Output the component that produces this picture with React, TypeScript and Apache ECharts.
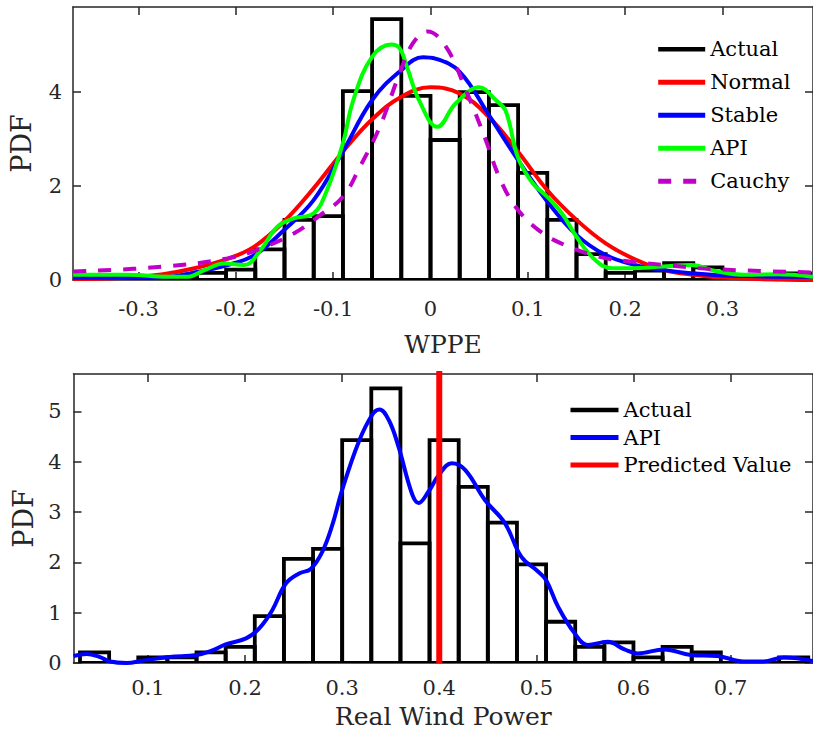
import React, { useEffect, useRef } from 'react';
import * as echarts from 'echarts';

// ---------- Top panel: WPPE distribution ----------
const topBinEdges = [
  -0.36, -0.33, -0.30, -0.27, -0.24, -0.21, -0.18, -0.15, -0.12, -0.09, -0.06, -0.03,
  0.0, 0.03, 0.06, 0.09, 0.12, 0.15, 0.18, 0.21, 0.24, 0.27, 0.30, 0.33, 0.36, 0.39,
];
const topActual = [
  0, 0, 0, 0.03, 0.15, 0.22, 0.65, 1.28, 1.36, 4.02, 5.55, 3.92,
  2.98, 4.0, 3.72, 2.28, 1.28, 0.55, 0.15, 0.2, 0.36, 0.27, 0.02, 0.05, 0.14,
];
const topNormal = [
  [-0.367, 0.02], [-0.32, 0.04], [-0.2765, 0.12], [-0.2425, 0.25], [-0.2085, 0.45], [-0.181, 0.71],
  [-0.1507, 1.24], [-0.1201, 1.95], [-0.0901, 2.73], [-0.0599, 3.42], [-0.0299, 3.9], [0, 4.1],
  [0.03, 3.97], [0.06, 3.47], [0.09, 2.73], [0.12, 1.91], [0.15, 1.28], [0.18, 0.78], [0.21, 0.44],
  [0.24, 0.21], [0.27, 0.11], [0.3085, 0.04], [0.393, 0.0],
];
const topStable = [
  [-0.367, 0.05], [-0.2765, 0.05], [-0.2425, 0.16], [-0.2085, 0.32], [-0.181, 0.53], [-0.1507, 1.06],
  [-0.1201, 1.7], [-0.0901, 2.73], [-0.0599, 3.83], [-0.0299, 4.47], [-0.0078, 4.74], [0.005, 4.71],
  [0.03, 4.43], [0.06, 3.51], [0.09, 2.55], [0.12, 1.67], [0.15, 0.96], [0.18, 0.53], [0.21, 0.32],
  [0.24, 0.21], [0.27, 0.14], [0.3085, 0.09], [0.393, 0.07],
];
const topAPI = [
  [-0.367, 0.11], [-0.3105, 0.11], [-0.27, 0.07], [-0.249, 0.07], [-0.2323, 0.21], [-0.212, 0.35],
  [-0.1915, 0.32], [-0.1745, 0.64], [-0.1575, 1.13], [-0.1405, 1.31], [-0.12, 1.42], [-0.1064, 1.91],
  [-0.09, 2.91], [-0.0793, 3.83], [-0.06, 4.75], [-0.0401, 5.01], [-0.0316, 4.93], [-0.0248, 4.57],
  [-0.0112, 3.8], [0.007, 3.26], [0.026, 3.76], [0.05, 4.1], [0.067, 3.83], [0.0772, 3.6],
  [0.09, 2.6], [0.105, 2.06], [0.12, 1.77], [0.135, 1.42], [0.15, 0.92], [0.169, 0.43], [0.186, 0.25],
  [0.2065, 0.25], [0.2337, 0.28], [0.2677, 0.32], [0.295, 0.18], [0.322, 0.11], [0.356, 0.12], [0.393, 0.07],
];
const topCauchy = [
  [-0.367, 0.18], [-0.2765, 0.28], [-0.2085, 0.46], [-0.1745, 0.67], [-0.1405, 0.99], [-0.1133, 1.38],
  [-0.09, 1.77], [-0.0725, 2.41], [-0.0521, 3.26], [-0.0317, 4.4], [-0.018, 5.04], [-0.003, 5.29],
  [0.016, 4.96], [0.0364, 4.04], [0.0568, 2.98], [0.0704, 2.2], [0.0874, 1.56], [0.111, 1.06],
  [0.1385, 0.74], [0.1724, 0.5], [0.2064, 0.39], [0.2405, 0.32], [0.2915, 0.23], [0.393, 0.16],
];
const topXTicks = [-0.3, -0.2, -0.1, 0, 0.1, 0.2, 0.3];
const topYTicks = [0, 2, 4];

// ---------- Bottom panel: real wind power ----------
const botBinEdges = [
  0.03, 0.06, 0.09, 0.12, 0.15, 0.18, 0.21, 0.24, 0.27, 0.30, 0.33, 0.36, 0.39,
  0.42, 0.45, 0.48, 0.51, 0.54, 0.57, 0.60, 0.63, 0.66, 0.69, 0.72, 0.75, 0.78,
];
const botActual = [
  0.21, 0.0, 0.11, 0.11, 0.21, 0.32, 0.93, 2.07, 2.27, 4.43, 5.46, 2.38,
  4.43, 3.5, 2.79, 1.96, 0.82, 0.32, 0.41, 0.11, 0.32, 0.21, 0.0, 0.0, 0.11,
];
const botAPI = [
  [0.0233, 0.14], [0.037, 0.18], [0.05, 0.12], [0.061, 0.03], [0.078, 0.0], [0.095, 0.05],
  [0.122, 0.12], [0.15, 0.16], [0.165, 0.24], [0.18, 0.37], [0.201, 0.49], [0.2146, 0.69],
  [0.228, 1.05], [0.242, 1.58], [0.2556, 1.78], [0.2676, 1.87], [0.2795, 2.21], [0.2898, 2.74],
  [0.3, 3.44], [0.3171, 4.4], [0.3308, 4.93], [0.3383, 5.04], [0.348, 4.83], [0.358, 4.3],
  [0.3718, 3.37], [0.3787, 3.18], [0.389, 3.41], [0.399, 3.72], [0.4128, 3.97], [0.4266, 3.84],
  [0.447, 3.24], [0.4676, 2.78], [0.4846, 2.11], [0.5017, 1.82], [0.51, 1.65], [0.5223, 1.12],
  [0.5394, 0.59], [0.553, 0.36], [0.5735, 0.42], [0.5907, 0.27], [0.6043, 0.19], [0.6317, 0.27],
  [0.659, 0.16], [0.6864, 0.14], [0.7137, 0.03], [0.734, 0.03], [0.7548, 0.11], [0.785, 0.04],
];
const predictedValue = 0.4;
const botXTicks = [0.1, 0.2, 0.3, 0.4, 0.5, 0.6, 0.7];
const botYTicks = [0, 1, 2, 3, 4, 5];

const FONT = 'DejaVu Serif';
const AX = '#262626';
const BAR_ICON = 'path://M0 0H48V4.5H0Z';

function histData(edges: number[], heights: number[]) {
  return heights.map((h, i) => [edges[i], edges[i + 1], h]);
}

function renderBar(params: any, api: any) {
  const p0 = api.coord([api.value(0), 0]);
  const p1 = api.coord([api.value(1), api.value(2)]);
  return {
    type: 'rect',
    shape: { x: p0[0], y: p1[1], width: p1[0] - p0[0], height: p0[1] - p1[1] },
    style: { fill: 'none', stroke: '#000', lineWidth: 3.8 },
  };
}

function xAxes(grid: number, min: number, max: number, ticks: number[], margin: number, name: string, nameGap: number) {
  const line = { show: true, onZero: false, lineStyle: { color: AX, width: 1.5 } };
  const tick = { show: true, inside: true, length: 8, customValues: ticks, lineStyle: { color: AX, width: 1.5 } };
  return [
    {
      gridIndex: grid, type: 'value', position: 'bottom', min, max,
      axisLine: line, axisTick: tick, splitLine: { show: false },
      axisLabel: { customValues: ticks, fontSize: 21, color: AX, fontFamily: FONT, margin },
      name, nameLocation: 'middle', nameGap,
      nameTextStyle: { fontSize: 25, color: AX, fontFamily: FONT },
    },
    {
      gridIndex: grid, type: 'value', position: 'top', min, max,
      axisLine: line, axisTick: tick, splitLine: { show: false },
      axisLabel: { show: false },
    },
  ];
}

function yAxes(grid: number, max: number, ticks: number[], margin: number, nameGap: number) {
  const line = { show: true, onZero: false, lineStyle: { color: AX, width: 1.5 } };
  const tick = { show: true, inside: true, length: 8, customValues: ticks, lineStyle: { color: AX, width: 1.5 } };
  return [
    {
      gridIndex: grid, type: 'value', position: 'left', min: 0, max,
      axisLine: line, axisTick: tick, splitLine: { show: false },
      axisLabel: { customValues: ticks, fontSize: 21, color: AX, fontFamily: FONT, margin },
      name: 'PDF', nameLocation: 'middle', nameGap, nameRotate: 90,
      nameTextStyle: { fontSize: 27, color: AX, fontFamily: FONT },
    },
    {
      gridIndex: grid, type: 'value', position: 'right', min: 0, max,
      axisLine: line, axisTick: tick, splitLine: { show: false },
      axisLabel: { show: false },
    },
  ];
}

function curve(name: string, data: number[][], color: string, xi: number, dashed = false) {
  return {
    type: 'line', name, data, xAxisIndex: xi, yAxisIndex: xi,
    smooth: 0.4, symbol: 'none', showSymbol: false,
    lineStyle: { color, width: 4, type: dashed ? [13, 12] : 'solid' },
    itemStyle: { color },
    z: 3,
  };
}

const legendText = { fontSize: 21, lineHeight: 21, color: '#000', fontFamily: FONT };

export default function App() {
  const ref = useRef<HTMLDivElement>(null);
  useEffect(() => {
    if (!ref.current) return;
    const chart = echarts.init(ref.current, null, { renderer: 'svg' });
    const option: any = {
      animation: false,
      backgroundColor: '#ffffff',
      textStyle: { fontFamily: FONT },
      grid: [
        { left: 71, top: 7, width: 745, height: 273 },
        { left: 73.5, top: 374, width: 742.5, height: 289 },
      ],
      xAxis: [
        ...xAxes(0, -0.3673, 0.393, topXTicks, 18, 'WPPE', 52),
        ...xAxes(1, 0.0233, 0.7849, botXTicks, 14, 'Real Wind Power', 41),
      ],
      yAxis: [
        ...yAxes(0, 5.81, topYTicks, 11, 38),
        ...yAxes(1, 5.745, botYTicks, 12, 37),
      ],
      legend: [
        {
          orient: 'vertical', left: 655.7, top: 38.8, padding: 0,
          itemWidth: 47, itemHeight: 10, itemGap: 12, symbolKeepAspect: true,
          itemStyle: { opacity: 0 },
          lineStyle: { width: 5 },
          textStyle: legendText,
          data: [
            { name: 'Actual', icon: BAR_ICON, itemStyle: { color: '#000', opacity: 1 } },
            'Normal', 'Stable', 'API', 'Cauchy',
          ],
        },
        {
          orient: 'vertical', left: 568, top: 399.5, padding: 0,
          itemWidth: 48, itemHeight: 10, itemGap: 6.5, symbolKeepAspect: true,
          itemStyle: { opacity: 0 },
          lineStyle: { width: 5 },
          textStyle: legendText,
          formatter: (n: string) => n.replace('_2', ''),
          data: [
            { name: 'Actual_2', icon: BAR_ICON, itemStyle: { color: '#000', opacity: 1 } },
            'API_2', 'Predicted Value',
          ],
        },
      ],
      series: [
        {
          type: 'custom', name: 'Actual', xAxisIndex: 0, yAxisIndex: 0,
          renderItem: renderBar, data: histData(topBinEdges, topActual),
          encode: { x: [0, 1], y: 2 }, itemStyle: { color: '#000' }, z: 2, clip: true,
        },
        curve('Normal', topNormal, '#ff0000', 0),
        curve('Stable', topStable, '#0000ff', 0),
        curve('API', topAPI, '#00ff00', 0),
        curve('Cauchy', topCauchy, '#c000c8', 0, true),
        {
          type: 'custom', name: 'Actual_2', xAxisIndex: 2, yAxisIndex: 2,
          renderItem: renderBar, data: histData(botBinEdges, botActual),
          encode: { x: [0, 1], y: 2 }, itemStyle: { color: '#000' }, z: 2, clip: true,
        },
        curve('API_2', botAPI, '#0000ff', 2),
        {
          type: 'line', name: 'Predicted Value', xAxisIndex: 2, yAxisIndex: 2,
          data: [[predictedValue, 0], [predictedValue, 6]], symbol: 'none', showSymbol: false,
          lineStyle: { color: '#ff0000', width: 6 }, itemStyle: { color: '#ff0000' }, z: 4,
        },
      ],
    };
    chart.setOption(option);
    return () => chart.dispose();
  }, []);
  return <div ref={ref} style={{ position: 'absolute', left: 0, top: 0, width: 813, height: 734 }} />;
}
